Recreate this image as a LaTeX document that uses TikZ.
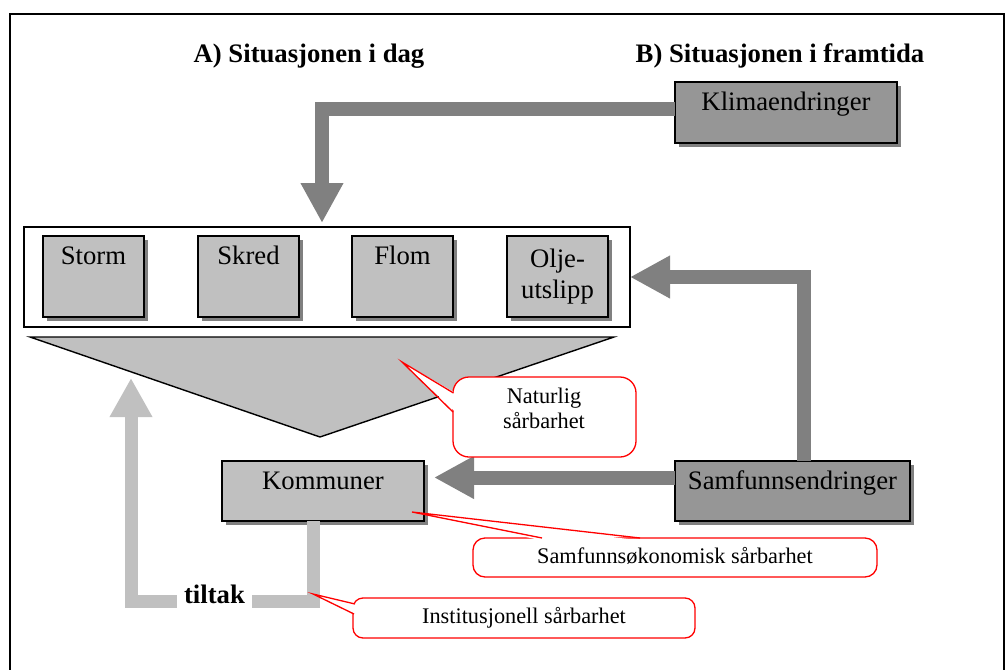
\documentclass[tikz,border=0pt]{standalone}
\usepackage{fontspec}
\setmainfont{Liberation Serif}
\usetikzlibrary{arrows.meta,shadows}
\definecolor{dgray}{HTML}{808080}
\definecolor{mgray}{HTML}{969696}
\definecolor{lgray}{HTML}{C0C0C0}
\begin{document}
\begin{tikzpicture}[x=1pt,y=-1pt,
  bigfont/.style={font=\fontsize{26.7}{31}\selectfont},
  boldfont/.style={font=\fontsize{26.7}{31}\selectfont\bfseries},
  smallfont/.style={font=\fontsize{22.3}{25}\selectfont},
  shadowbox/.style={draw=black, line width=1.6pt, inner sep=0pt, outer sep=0pt, anchor=north west,
     bigfont, drop shadow={shadow xshift=4pt, shadow yshift=-4pt, fill=dgray, opacity=1}},
  hazard/.style={shadowbox, fill=lgray, minimum width=101pt, minimum height=81pt,
     text height=28pt, text depth=53pt},
  darkbox/.style={shadowbox, fill=mgray, minimum height=61pt, text height=28pt, text depth=33pt},
  lightbox/.style={shadowbox, fill=lgray, minimum height=60pt, text height=28pt, text depth=32pt},
  darrow/.style={draw=dgray, line width=14pt, -{Triangle[length=40pt,width=40pt]}},
  larrow/.style={draw=lgray, line width=13pt, -{Triangle[length=39pt,width=40pt]}},
  callout/.style={draw=red, line width=1.3pt, fill=white},
  calloutline/.style={draw=red, line width=1.3pt},
  calloutgap/.style={fill=white},
  calltext/.style={smallfont, inner sep=0pt, anchor=base, align=center}
]
\useasboundingbox (0,0) rectangle (1005,670);
% outer frame
\draw[line width=1.4pt] (10,680) -- (10,14) -- (1004,14) -- (1004,680);

% titles
\node[boldfont, anchor=base, inner sep=0pt] (titleA) at (309,62) {A) Situasjonen i dag};
\node[boldfont, anchor=base, inner sep=0pt] (titleB) at (780,62) {B) Situasjonen i framtida};

% container with hazards
\node[draw=black, line width=1.4pt, fill=white, inner sep=0pt, outer sep=0pt, anchor=north west,
      minimum width=606pt, minimum height=100pt] (cont) at (24,227) {};
\node[hazard] (storm) at (43,236) {Storm};
\node[hazard] (skred) at (198,236) {Skred};
\node[hazard] (flom) at (352,236) {Flom};
\node[shadowbox, fill=lgray, minimum width=101pt, minimum height=81pt, align=center,
      anchor=center] (olje) at (557.5,276.5) {Olje-\\utslipp};

% natural vulnerability triangle
\draw[fill=lgray, line width=1.4pt] (30,337) -- (614,337) -- (320,437) -- cycle;

% driver boxes
\node[darkbox, minimum width=222pt] (klima) at (675,82) {Klimaendringer};
\node[darkbox, minimum width=235pt, minimum height=60pt, text depth=32pt] (samf) at (675,461) {Samfunnsendringer};
\node[lightbox, minimum width=202pt] (komm) at (222,461) {Kommuner};

% dark arrows
\draw[darrow] ([yshift=4pt]klima.west) -| ([xshift=-5pt,yshift=4pt]cont.north);
\draw[darrow] ([xshift=11.5pt]samf.north) |- (cont.east);
\draw[darrow] ([yshift=13.5pt]samf.west) -- ([xshift=10pt,yshift=13.5pt]komm.east);

% light arrow (tiltak)
\coordinate (lt) at (131,378);
\draw[larrow] ([xshift=-10pt]komm.south) -- ++(0,80) -| (lt);
\node[boldfont, fill=white, inner xsep=7pt, inner ysep=5pt, anchor=base] (tiltak) at (214.5,603) {tiltak};

% callout: Naturlig sarbarhet
\coordinate (tipN) at (402,362);
\draw[callout, rounded corners=16pt] (453,377) rectangle (636,457);
\fill[calloutgap] (455.5,412) -- (tipN) -- (455.5,393) -- cycle;
\draw[calloutline] (453,412) -- (tipN) -- (453.5,393);
\node[calltext] (natur) at (544,428) {Naturlig\\sårbarhet};

% callout: Samfunnsokonomisk sarbarhet
\coordinate (tipS) at (412,512);
\draw[callout, rounded corners=12pt] (473,538) rectangle (877,577);
\fill[calloutgap] (542,540.5) -- (tipS) -- (640,540.5) -- cycle;
\draw[calloutline] (542,538) -- (tipS) -- (640,538);
\node[calltext] (samfok) at (675,563) {Samfunnsøkonomisk sårbarhet};

% callout: Institusjonell sarbarhet
\coordinate (tipI) at (313,594);
\draw[callout, rounded corners=10pt] (353,598) rectangle (695,638);
\fill[calloutgap] (355.5,614) -- (tipI) -- (355.5,604) -- cycle;
\draw[calloutline] (354,614) -- (tipI) -- (355,604);
\node[calltext] (inst) at (524,623) {Institusjonell sårbarhet};
\end{tikzpicture}
\end{document}
